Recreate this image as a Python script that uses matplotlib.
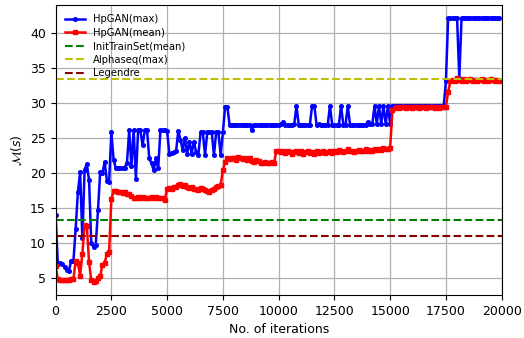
import numpy as np
import matplotlib
matplotlib.use("Agg")
import matplotlib.pyplot as plt

step = 100
hpgan_max = [
    14.0, 7.1, 7.2, 7.1, 6.6, 6.2, 6.1, 7.5, 7.5, 12.1,
    17.3, 20.2, 10.7, 20.5, 21.3, 19.0, 10.0, 9.5, 9.8, 14.7,
    20.2, 20.0, 21.6, 18.9, 18.8, 25.9, 21.9, 20.7, 20.7, 20.7,
    20.7, 20.8, 21.5, 26.1, 21.0, 26.1, 19.2, 26.1, 26.1, 24.0,
    26.1, 26.1, 22.1, 21.4, 20.4, 22.1, 20.7, 26.1, 26.1, 26.1,
    26.0, 22.8, 22.9, 23.0, 23.1, 26.0, 24.7, 23.3, 25.0, 22.8,
    24.5, 22.8, 24.5, 23.0, 22.6, 25.8, 25.8, 22.6, 25.8, 25.8,
    25.8, 22.6, 25.8, 25.8, 22.6, 25.8, 29.5, 29.5, 26.9, 26.9,
    26.9, 26.9, 26.9, 26.9, 26.9, 26.9, 26.9, 26.9, 26.2, 26.9,
    26.9, 26.9, 26.9, 26.9, 26.9, 26.9, 26.9, 26.9, 26.9, 26.9,
    26.9, 27.0, 27.3, 26.9, 26.9, 26.9, 26.9, 27.0, 29.6, 26.9,
    26.9, 26.9, 26.9, 26.9, 26.9, 29.6, 29.6, 26.9, 27.0, 26.9,
    26.9, 26.9, 26.9, 29.6, 26.9, 26.9, 26.9, 26.9, 29.6, 26.9,
    26.9, 29.6, 26.9, 26.9, 26.9, 26.9, 26.9, 26.9, 26.9, 26.9,
    27.3, 27.0, 27.0, 29.6, 27.0, 29.6, 27.0, 29.6, 27.0, 29.6,
    27.0, 29.6, 29.6, 29.6, 29.6, 29.6, 29.6, 29.6, 29.6, 29.6,
    29.6, 29.6, 29.6, 29.6, 29.6, 29.6, 29.6, 29.6, 29.6, 29.6,
    29.6, 29.6, 29.6, 29.6, 29.6, 33.1, 42.1, 42.1, 42.1, 42.1,
    42.1, 33.6, 42.1, 42.1, 42.1, 42.1, 42.1, 42.1, 42.1, 42.1,
    42.1, 42.1, 42.1, 42.1, 42.1, 42.1, 42.1, 42.1, 42.1, 42.1,
]
hpgan_mean = [
    6.8, 4.9, 4.8, 4.8, 4.8, 4.8, 4.8, 4.9, 4.9, 7.5,
    7.2, 5.4, 8.5, 12.6, 12.5, 7.3, 4.7, 4.5, 4.6, 5.0,
    5.3, 6.9, 7.2, 8.5, 8.8, 16.3, 17.4, 17.5, 17.3, 17.3,
    17.2, 17.3, 17.0, 17.0, 16.8, 16.5, 16.4, 16.6, 16.5, 16.6,
    16.4, 16.5, 16.4, 16.6, 16.5, 16.6, 16.4, 16.5, 16.4, 16.2,
    17.8, 17.9, 17.8, 18.0, 18.0, 18.3, 18.5, 18.2, 18.3, 18.0,
    17.9, 18.0, 17.8, 17.7, 17.6, 17.9, 17.8, 17.6, 17.5, 17.3,
    17.6, 17.8, 18.0, 18.2, 18.3, 20.4, 21.6, 22.1, 22.0, 22.2,
    22.1, 21.9, 22.3, 22.1, 22.0, 22.2, 21.9, 22.1, 21.8, 21.6,
    21.9, 21.8, 21.4, 21.5, 21.6, 21.4, 21.5, 21.6, 21.5, 23.2,
    23.1, 23.0, 23.2, 22.9, 23.1, 23.0, 22.8, 23.0, 23.2, 22.9,
    23.1, 22.8, 23.0, 23.1, 22.9, 23.0, 22.8, 23.1, 22.9, 23.0,
    23.2, 22.9, 23.0, 23.1, 22.9, 23.2, 23.0, 23.3, 23.1, 23.0,
    23.2, 23.4, 23.1, 23.2, 23.0, 23.2, 23.3, 23.1, 23.2, 23.4,
    23.2, 23.3, 23.1, 23.4, 23.3, 23.5, 23.3, 23.6, 23.4, 23.5,
    23.6, 29.0, 29.3, 29.4, 29.3, 29.5, 29.4, 29.3, 29.4, 29.5,
    29.3, 29.4, 29.4, 29.3, 29.5, 29.4, 29.3, 29.4, 29.4, 29.5,
    29.3, 29.4, 29.3, 29.4, 29.4, 29.5, 31.6, 33.1, 33.3, 33.2,
    33.5, 33.3, 33.2, 33.4, 33.1, 33.3, 33.4, 33.2, 33.3, 33.1,
    33.3, 33.4, 33.2, 33.3, 33.2, 33.4, 33.3, 33.2, 33.3, 33.2,
]
init_train_mean = 13.35
alphaseq_max = 33.45
legendre = 11.0

iters = np.arange(len(hpgan_max)) * step

fig = plt.figure(figsize=(5.24, 3.38), dpi=100)
ax = fig.add_axes([0.1061, 0.1272, 0.9574 - 0.1061, 0.9852 - 0.1272])

ax.plot(iters, hpgan_max, color="b", lw=1.8, marker="o", ms=2.6, label="HpGAN(max)")
ax.plot(iters, hpgan_mean, color="r", lw=1.8, marker="s", ms=2.6, label="HpGAN(mean)")
ax.axhline(init_train_mean, color="g", ls="--", lw=1.5, label="InitTrainSet(mean)")
ax.axhline(alphaseq_max, color="y", ls="--", lw=1.5, label="Alphaseq(max)")
ax.axhline(legendre, color="darkred", ls="--", lw=1.5, label="Legendre")

ax.set_xlim(0, 20000)
ax.set_xticks(np.arange(0, 20001, 2500))
ax.set_yticks(np.arange(5, 41, 5))
ax.grid(True, color="#b0b0b0", lw=0.9)
ax.set_axisbelow(True)
ax.tick_params(labelsize=9)
ax.set_xlabel("No. of iterations", fontsize=9)
ax.set_ylabel(r"$\mathcal{M}(s)$", fontsize=9)
ax.legend(loc="upper left", frameon=False, fontsize=7.2, labelspacing=0.35)

fig.savefig("out.png", dpi=100)
